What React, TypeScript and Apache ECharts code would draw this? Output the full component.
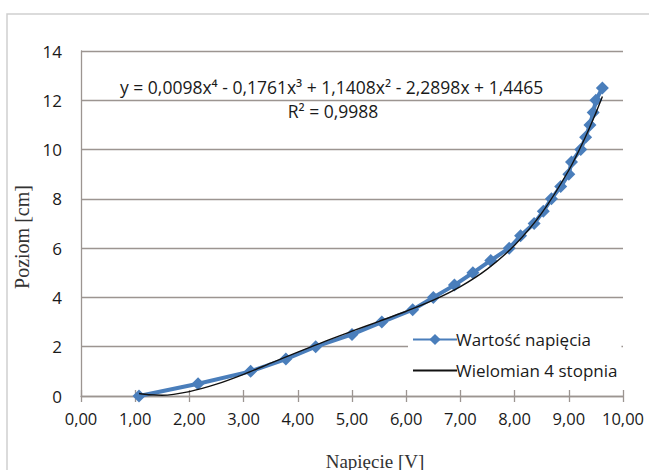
import React, { useEffect, useRef } from "react";
import * as echarts from "echarts";

const voltage = [1.07, 2.16, 3.13, 3.78, 4.33, 5.0, 5.55, 6.12, 6.5, 6.89, 7.23, 7.56, 7.9, 8.11, 8.36, 8.53, 8.68, 8.85, 9.0, 9.05, 9.22, 9.31, 9.39, 9.45, 9.5, 9.62];
const level = [0, 0.5, 1.0, 1.5, 2.0, 2.5, 3.0, 3.5, 4.0, 4.5, 5.0, 5.5, 6.0, 6.5, 7.0, 7.5, 8.0, 8.5, 9.0, 9.5, 10.0, 10.5, 11.0, 11.5, 12.0, 12.5];

const trendX = [1.07, 1.25, 1.5, 2, 2.5, 3, 3.5, 4, 4.5, 5, 5.5, 6, 6.5, 7, 7.5, 8, 8.5, 9, 9.3, 9.5, 9.62];
const trendY = [0.1, 0.05, 0.03, 0.18, 0.48, 0.88, 1.33, 1.78, 2.22, 2.63, 3.03, 3.44, 3.89, 4.44, 5.16, 6.12, 7.42, 9.16, 10.48, 11.49, 12.15];

const seriesNames = ["Wartość napięcia", "Wielomian 4 stopnia"];
const equationText = "y = 0,0098x⁴ - 0,1761x³ + 1,1408x² - 2,2898x + 1,4465";
const r2Text = "R² = 0,9988";
const xTitle = "Napięcie [V]";
const yTitle = "Poziom [cm]";

const SANS = "'Open Sans', 'Noto Sans', sans-serif";
const SERIF = "'Liberation Serif', 'DejaVu Serif', serif";
const GRID = "#9c9591";

export default function App() {
  const ref = useRef<HTMLDivElement>(null);
  useEffect(() => {
    if (!ref.current) return;
    const chart = echarts.init(ref.current, undefined, { renderer: "svg" });
    const fmt = (v: number) => v.toFixed(2).replace(".", ",");
    chart.setOption({
      animation: false,
      backgroundColor: "#ffffff",
      grid: { left: 81, right: 26, top: 51, bottom: 74 },
      xAxis: [
        {
          type: "value",
          min: 0,
          max: 10,
          interval: 1,
          axisLine: { show: true, lineStyle: { color: GRID, width: 1.3 } },
          axisTick: { show: true, length: 6, lineStyle: { color: GRID, width: 1.3 } },
          axisLabel: { formatter: fmt, color: "#1a1a1a", fontFamily: SANS, fontSize: 16.5, margin: 14 },
          splitLine: { show: false },
        },
        {
          type: "value",
          position: "bottom",
          min: 0,
          max: 10,
          interval: 1,
          axisLine: { show: false },
          axisTick: { show: true, inside: true, length: 6, lineStyle: { color: GRID, width: 1.3 } },
          axisLabel: { show: false },
          splitLine: { show: false },
        },
      ],
      yAxis: {
        type: "value",
        min: 0,
        max: 14,
        interval: 2,
        axisLine: { show: true, lineStyle: { color: GRID, width: 1.3 } },
        axisTick: { show: false },
        axisLabel: { color: "#1a1a1a", fontFamily: SANS, fontSize: 17, margin: 19 },
        splitLine: { show: true, lineStyle: { color: GRID, width: 1.4 } },
      },
      legend: {
        left: 408,
        top: 327,
        orient: "vertical",
        itemWidth: 44,
        itemHeight: 14,
        itemGap: 14,
        padding: [4, 4, 4, 4],
        backgroundColor: "#ffffff",
        textStyle: { color: "#1a1a1a", fontFamily: SANS, fontSize: 17, padding: [0, 0, 0, -6] },
        data: [
          { name: seriesNames[0] },
          { name: seriesNames[1], itemStyle: { color: "transparent", borderColor: "transparent", opacity: 0 } },
        ],
      },
      graphic: [
        {
          type: "rect",
          shape: { x: 7, y: 14, width: 700, height: 500 },
          style: { fill: "none", stroke: "#cfcfcf", lineWidth: 1.5 },
          silent: true,
          z: -10,
        },
        {
          type: "text",
          x: 120,
          y: 87,
          style: { text: equationText, fontFamily: SANS, fontSize: 17.5, fill: "#1a1a1a", textVerticalAlign: "middle" },
        },
        {
          type: "text",
          x: 333,
          y: 111,
          style: { text: r2Text, fontFamily: SANS, fontSize: 17.5, fill: "#1a1a1a", textAlign: "center", textVerticalAlign: "middle" },
        },
        {
          type: "text",
          x: 375,
          y: 461,
          style: { text: xTitle, fontFamily: SERIF, fontSize: 19, fill: "#333", textAlign: "center", textVerticalAlign: "middle" },
        },
        {
          type: "text",
          x: 22,
          y: 237,
          rotation: Math.PI / 2,
          style: { text: yTitle, fontFamily: SERIF, fontSize: 20, fill: "#333", textAlign: "center", textVerticalAlign: "middle" },
        },
      ],
      series: [
        {
          name: seriesNames[0],
          type: "line",
          data: voltage.map((v, i) => [v, level[i]]),
          symbol: "diamond",
          symbolSize: 13,
          showSymbol: true,
          itemStyle: { color: "#4a7ebb" },
          lineStyle: { color: "#4a7ebb", width: 4 },
          z: 2,
        },
        {
          name: seriesNames[1],
          type: "line",
          data: trendX.map((v, i) => [v, trendY[i]]),
          smooth: 0.3,
          symbol: "none",
          itemStyle: { color: "#111" },
          lineStyle: { color: "#111", width: 1.4 },
          z: 3,
        },
      ],
    });
    return () => chart.dispose();
  }, []);
  return <div ref={ref} style={{ position: "fixed", left: 0, top: 0, width: 649, height: 470 }} />;
}
